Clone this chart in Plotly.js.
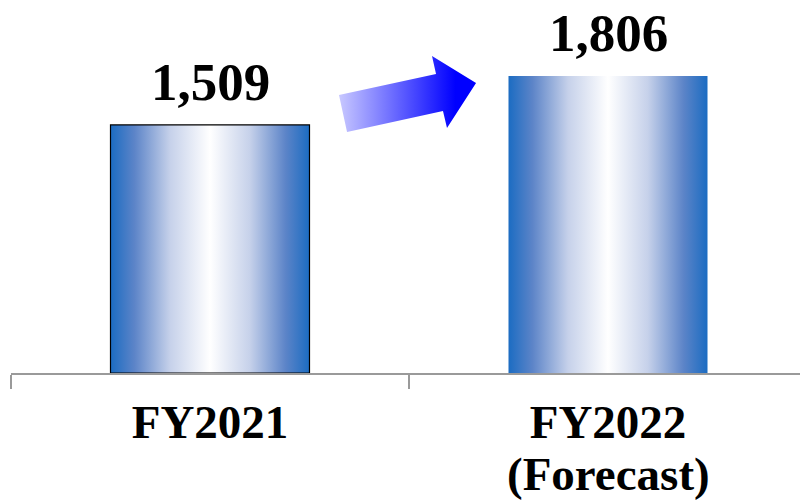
<!DOCTYPE html>
<html>
<head>
<meta charset="utf-8">
<script src="https://cdn.plot.ly/plotly-3.0.1.min.js"></script>
<style>html,body{margin:0;padding:0;background:#fff;}#chart{width:800px;height:502px;}</style>
</head>
<body>
<div id="chart"></div>
<script>
const categories = ['FY2021', 'FY2022'];
const values = [1509, 1806];
const subLabels = ['', '(Forecast)'];
const borderWidths = [1.2, 0];

const FONT = '"Liberation Serif", "Times New Roman", serif';
const PL = 11, PW = 789, PT = 0, PH = 373;
function px2paper(x, y) { return [(x - PL) / PW, (PT + PH - y) / PH]; }
const arrowPx = [[339, 95], [436, 74], [432, 56], [476, 83], [447, 128], [443, 111], [347, 132]];
const arrowPath = arrowPx.map((p, i) => { const q = px2paper(p[0], p[1]); return (i ? 'L' : 'M') + q[0].toFixed(4) + ',' + q[1].toFixed(4); }).join(' ') + ' Z';

const trace = {
  type: 'bar',
  x: categories,
  y: values,
  marker: { color: '#5f86c8', line: { color: '#000', width: borderWidths } },
  hoverinfo: 'skip'
};

const annotations = [];
values.forEach((v, i) => {
  annotations.push({
    x: categories[i], y: v, xref: 'x', yref: 'y', text: v.toLocaleString('en-US'),
    showarrow: false, yanchor: 'bottom', yshift: 12,
    font: { family: FONT, size: 53, color: '#000', weight: 700 }
  });
  if (subLabels[i]) {
    annotations.push({
      x: categories[i], y: -0.195, xref: 'x', yref: 'paper', text: subLabels[i],
      showarrow: false, yanchor: 'top',
      font: { family: FONT, size: 47, color: '#000', weight: 700 }
    });
  }
});

const layout = {
  width: 800, height: 502,
  margin: { l: PL, r: 800 - PL - PW, t: PT, b: 502 - PT - PH, pad: 0 },
  paper_bgcolor: '#fff', plot_bgcolor: '#fff',
  showlegend: false,
  bargap: 0.5,
  xaxis: {
    type: 'category',
    range: [-0.5, -0.5 + PW / 398],
    tickson: 'boundaries', ticks: 'outside', ticklen: 14, tickwidth: 1.5, tickcolor: '#9a9a9a',
    ticklabelstandoff: 7,
    showline: true, linecolor: '#9a9a9a', linewidth: 1.5,
    showgrid: false, zeroline: false, fixedrange: true,
    tickfont: { family: FONT, size: 47, color: '#000', weight: 700 }
  },
  yaxis: { range: [0, 2269], visible: false, fixedrange: true },
  shapes: [{
    type: 'path', xref: 'paper', yref: 'paper', path: arrowPath,
    fillcolor: '#6666ff', line: { width: 0 }, layer: 'above'
  }],
  annotations: annotations
};

Plotly.newPlot('chart', [trace], layout, { staticPlot: true, displayModeBar: false }).then(function (gd) {
  const svg = gd.querySelector('svg.main-svg');
  const NS = 'http://www.w3.org/2000/svg';
  let defs = svg.querySelector('defs');
  if (!defs) { defs = document.createElementNS(NS, 'defs'); svg.insertBefore(defs, svg.firstChild); }
  function grad(id, stops) {
    const g = document.createElementNS(NS, 'linearGradient');
    g.setAttribute('id', id); g.setAttribute('x1', '0'); g.setAttribute('x2', '1'); g.setAttribute('y1', '0'); g.setAttribute('y2', '0');
    stops.forEach(s => { const st = document.createElementNS(NS, 'stop'); st.setAttribute('offset', s[0]); st.setAttribute('stop-color', s[1]); g.appendChild(st); });
    defs.appendChild(g);
  }
  grad('barGrad', [[0, '#1b6cc2'], [0.12, '#5c84c8'], [0.3, '#c6d1ea'], [0.5, '#ffffff'], [0.7, '#c6d1ea'], [0.88, '#5c84c8'], [1, '#1b6cc2']]);
  grad('arrowGrad', [[0, '#c8c8ff'], [0.85, '#0000ff'], [1, '#0000ff']]);
  gd.querySelectorAll('.barlayer .point path').forEach(p => { p.style.fill = 'url(#barGrad)'; p.style.fillOpacity = 1; });
  gd.querySelectorAll('.shapelayer path').forEach(p => { p.style.fill = 'url(#arrowGrad)'; p.style.fillOpacity = 1; });
});
</script>
</body>
</html>
